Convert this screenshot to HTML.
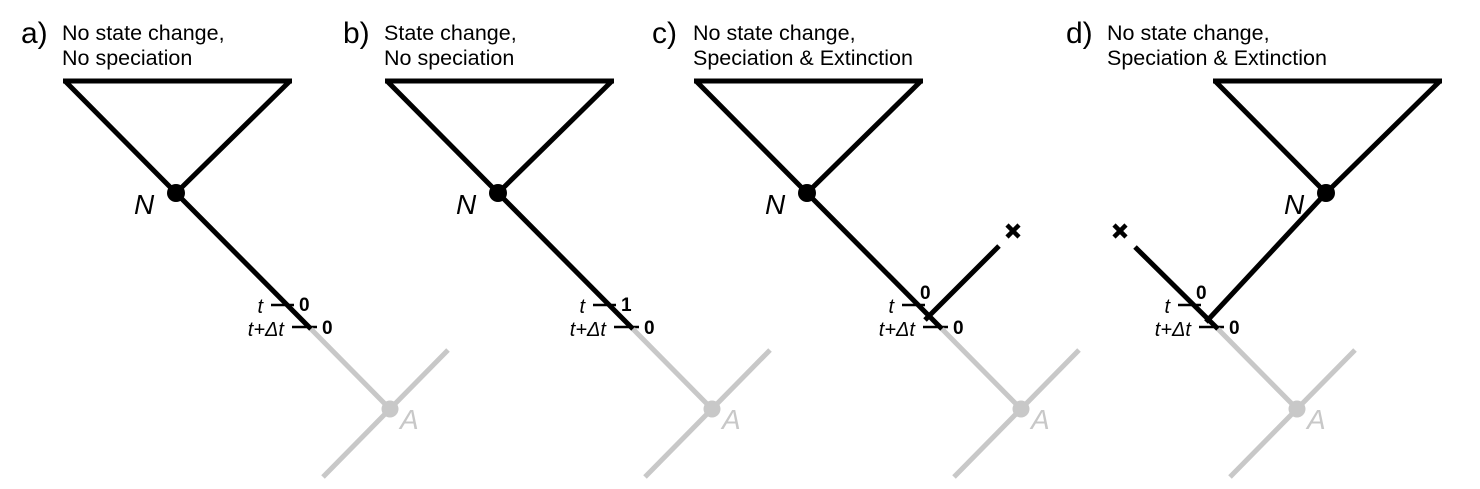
<!DOCTYPE html>
<html><head><meta charset="utf-8">
<style>
html,body{margin:0;padding:0;background:#fff;}
svg{display:block;font-family:"Liberation Sans",Arial,sans-serif;}
</style></head>
<body>
<svg id="fig" width="1480" height="489" viewBox="0 0 1480 489" xmlns="http://www.w3.org/2000/svg"></svg>
<script>
const panelLetters = ["a)", "b)", "c)", "d)"];
const titleLine1 = ["No state change,", "State change,", "No state change,", "No state change,"];
const titleLine2 = ["No speciation", "No speciation", "Speciation & Extinction", "Speciation & Extinction"];
const stateAtT = ["0", "1", "0", "0"];
const stateAtTdt = ["0", "0", "0", "0"];
const panelType = ["plain", "plain", "extinct-right", "extinct-left"];
const panelOffsets = [0, 322, 631, 0];

const NS = "http://www.w3.org/2000/svg";
const svg = document.getElementById("fig");
function el(tag, attrs, parent) {
  const e = document.createElementNS(NS, tag);
  for (const k in attrs) e.setAttribute(k, attrs[k]);
  (parent || svg).appendChild(e);
  return e;
}
const BK = "#000", GR = "#c8c8c8", W = 5;

function line(g, x1, y1, x2, y2, c, name) {
  const l = el("line", {x1, y1, x2, y2, stroke: c, "stroke-width": W, "stroke-linecap": "butt"}, g);
  
  
  return l;
}
function text(g, x, y, s, attrs, name) {
  const t = el("text", Object.assign({x, y}, attrs), g);
  t.textContent = s;
  
  
  return t;
}

for (let i = 0; i < 4; i++) {
  const g = el("g", {});
  
  
  const lx = i === 3 ? 1067 : 22 + panelOffsets[i];
  text(g, lx - 1, 43, panelLetters[i], {"font-size": 30}, 'panel-letter');
  text(g, lx + 40, 40, titleLine1[i], {"font-size": 21.5}, 'panel-title-line1');
  text(g, lx + 40, 65, titleLine2[i], {"font-size": 21.5}, 'panel-title-line2');

  let tx, nx = 176, ny = 193;
  if (i === 3) { tx = 1150; } else { tx = panelOffsets[i]; }
  const L = 65 + tx, R = 290 + tx, N = nx + tx;
  line(g, L - 2, 81, R + 2, 81, BK, 'clade-top-bar');
  line(g, L, 81, N, ny, BK, 'clade-left-branch');
  line(g, R, 81, N, ny, BK, 'clade-right-branch');
  const c = el("circle", {cx: N, cy: ny, r: 9, fill: BK}, g);
  
  
  text(g, N - 42, 214, "N", {"font-size": 28, "font-style": "italic"}, 'node-n-label');

  let bx;
  if (i === 3) bx = 907; else bx = panelOffsets[i];
  const jx = 311 + bx, jy = 329;
  if (i < 3) {
    line(g, N, ny, jx, jy, BK, 'lineage-branch');
  } else {
    line(g, 1135, 247, jx, jy, BK, 'extinct-lineage-branch');
    line(g, N, ny, 1206, 322, BK, 'lineage-branch');
  }
  if (i === 2) {
    line(g, 999, 246, 925, 320, BK, 'extinct-lineage-branch');
  }
  if (i >= 2) {
    const ex = i === 2 ? 1013 : 1120, ey = 231;
    const xg = el("g", {}, g);
    
    
    el("line", {x1: ex - 6, y1: ey - 6, x2: ex + 6, y2: ey + 6, stroke: BK, "stroke-width": 4.5}, xg);
    el("line", {x1: ex - 6, y1: ey + 6, x2: ex + 6, y2: ey - 6, stroke: BK, "stroke-width": 4.5}, xg);
  }
  const tk = 271 + bx;
  line(g, tk, 305, tk + 23, 305, BK, 't-tick').setAttribute("stroke-width", 2.5);
  line(g, tk + 21, 327, tk + 46, 327, BK, 't-dt-tick').setAttribute("stroke-width", 2.5);
  text(g, tk - 8, 313, "t", {"font-size": 20, "font-style": "italic", "text-anchor": "end"}, 't-label');
  text(g, tk + 13, 336, "t+Δt", {"font-size": 20, "font-style": "italic", "text-anchor": "end"}, 't-dt-label');
  if (i < 2) {
    text(g, tk + 28, 311, stateAtT[i], {"font-size": 19, "font-weight": "bold"}, 'state-at-t');
  } else {
    text(g, tk + 18, 299, stateAtT[i], {"font-size": 19, "font-weight": "bold"}, 'state-at-t');
  }
  text(g, tk + 51, 334, stateAtTdt[i], {"font-size": 19, "font-weight": "bold"}, 'state-at-t-dt');

  const ax = 390 + bx, ay = 409;
  line(g, jx, jy, ax, ay, GR, 'ancestor-branch');
  line(g, 448 + bx, 350, 323 + bx, 477, GR, 'ancestor-cross-branch');
  const ac = el("circle", {cx: ax, cy: ay, r: 8.5, fill: GR}, g);
  
  
  text(g, ax + 10, 429, "A", {"font-size": 28, "font-style": "italic", fill: GR}, 'node-a-label');
}
</script>
</body></html>
